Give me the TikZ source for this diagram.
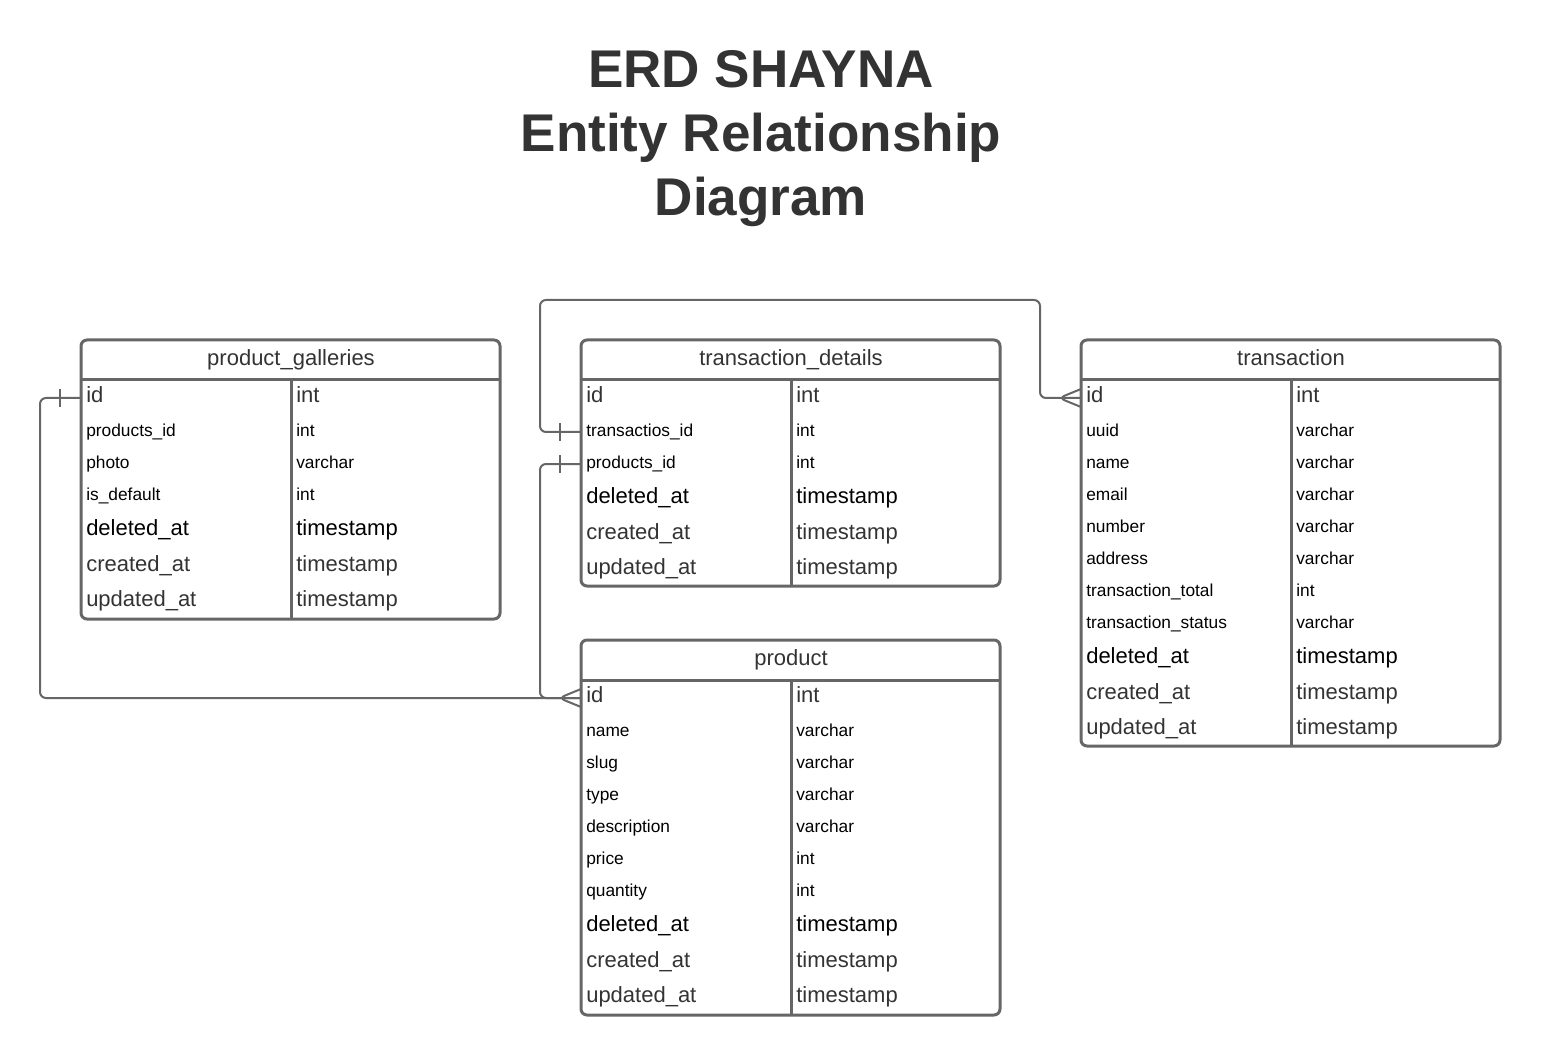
\documentclass[tikz,border=0pt]{standalone}
\usepackage{fontspec}
\setmainfont{Liberation Sans}
\usetikzlibrary{positioning}
\definecolor{erdgray}{RGB}{102,102,102}
\definecolor{erdtext}{RGB}{51,51,51}
\tikzset{
    entity/.style={draw=erdgray, line width=2.25pt, rounded corners=4.5pt},
    sep/.style={draw=erdgray, line width=2.25pt},
    hdr/.style={text=erdtext, inner sep=0pt, text height=0.72em, text depth=0.2em, font=\fontsize{16.5}{19}\selectfont},
    row/.style={anchor=west, inner xsep=3.75pt, inner ysep=0pt, text height=0.9em, text depth=0.18em},
    fbig/.style={row, text=erdtext, font=\fontsize{16.5}{19}\selectfont},
    fdark/.style={row, text=black, font=\fontsize{16.5}{19}\selectfont},
    fsmall/.style={row, text=black, font=\fontsize{13}{15}\selectfont},
    conn/.style={draw=erdgray, line width=1.5pt, rounded corners=4.5pt},
}

\begin{document}
\begin{tikzpicture}[x=0.75pt, y=-0.75pt]
        \useasboundingbox (0,0) rectangle (1542,1055);
        % Title
        \node (title) [text=erdtext, align=center, font=\fontsize{39.8}{48}\selectfont\bfseries] at (761,139)
            {ERD SHAYNA\\Entity Relationship\\Diagram};

        % product_galleries
        \draw [entity] (81,340) rectangle (500,619);
        \draw [sep] (81,380) -- (500,380);
        \draw [sep] (291,380) -- (291,619);
        \node (gal) [hdr] at (291,362) {product\_galleries};
        \foreach \n/\f/\t/\y/\s in {gal-id/id/int/398/fbig, gal-pid/products\_id/int/432/fsmall,
            gal-photo/photo/varchar/464/fsmall, gal-def/is\_default/int/496/fsmall,
            gal-del/deleted\_at/timestamp/531/fdark, gal-cre/created\_at/timestamp/567/fbig,
            gal-upd/updated\_at/timestamp/602/fbig}{
            \node (\n) [\s] at (81,\y) {\f};
            \node (\n-t) [\s] at (291,\y) {\t};
        }

        % transaction_details
        \draw [entity] (581,340) rectangle (1000,586);
        \draw [sep] (581,380) -- (1000,380);
        \draw [sep] (791,380) -- (791,586);
        \node (td) [hdr] at (791,362) {transaction\_details};
        \foreach \n/\f/\t/\y/\s in {td-id/id/int/398/fbig, td-tid/transactios\_id/int/432/fsmall,
            td-pid/products\_id/int/464/fsmall, td-del/deleted\_at/timestamp/499/fdark,
            td-cre/created\_at/timestamp/535/fbig, td-upd/updated\_at/timestamp/570/fbig}{
            \node (\n) [\s] at (581,\y) {\f};
            \node (\n-t) [\s] at (791,\y) {\t};
        }

        % transaction
        \draw [entity] (1081,340) rectangle (1500,746);
        \draw [sep] (1081,380) -- (1500,380);
        \draw [sep] (1291,380) -- (1291,746);
        \node (tr) [hdr] at (1291,362) {transaction};
        \foreach \n/\f/\t/\y/\s in {tr-id/id/int/398/fbig, tr-uuid/uuid/varchar/432/fsmall,
            tr-name/name/varchar/464/fsmall, tr-email/email/varchar/496/fsmall,
            tr-num/number/varchar/528/fsmall, tr-addr/address/varchar/560/fsmall,
            tr-total/transaction\_total/int/592/fsmall, tr-status/transaction\_status/varchar/624/fsmall,
            tr-del/deleted\_at/timestamp/659/fdark, tr-cre/created\_at/timestamp/695/fbig,
            tr-upd/updated\_at/timestamp/730/fbig}{
            \node (\n) [\s] at (1081,\y) {\f};
            \node (\n-t) [\s] at (1291,\y) {\t};
        }

        % product
        \draw [entity] (581,640) rectangle (1000,1015);
        \draw [sep] (581,680) -- (1000,680);
        \draw [sep] (791,680) -- (791,1015);
        \node (prod) [hdr] at (791,662) {product};
        \foreach \n/\f/\t/\y/\s in {prod-id/id/int/698/fbig, prod-name/name/varchar/732/fsmall,
            prod-slug/slug/varchar/764/fsmall, prod-type/type/varchar/796/fsmall,
            prod-desc/description/varchar/828/fsmall, prod-price/price/int/860/fsmall,
            prod-qty/quantity/int/892/fsmall, prod-del/deleted\_at/timestamp/927/fdark,
            prod-cre/created\_at/timestamp/963/fbig, prod-upd/updated\_at/timestamp/998/fbig}{
            \node (\n) [\s] at (581,\y) {\f};
            \node (\n-t) [\s] at (791,\y) {\t};
        }

        % Relations
        \draw [conn] (gal-id.west) -- ++(-41,0) |- (prod-id.west);
        \draw [conn] (gal-id.west) ++(-21,-9) -- ++(0,18);
        \draw [conn] (td-pid.west) -- ++(-41,0) |- (prod-id.west);
        \draw [conn] (td-pid.west) ++(-21,-9) -- ++(0,18);
        \draw [conn] (prod-id.west) ++(0,-9) -- ++(-22,9) -- ++(22,9);
        \draw [conn] (td-tid.west) -- ++(-41,0) -- ++(0,-132) -- ++(500,0) |- (tr-id.west);
        \draw [conn] (td-tid.west) ++(-21,-9) -- ++(0,18);
        \draw [conn] (tr-id.west) ++(0,-9) -- ++(-22,9) -- ++(22,9);
    \end{tikzpicture}
\end{document}
